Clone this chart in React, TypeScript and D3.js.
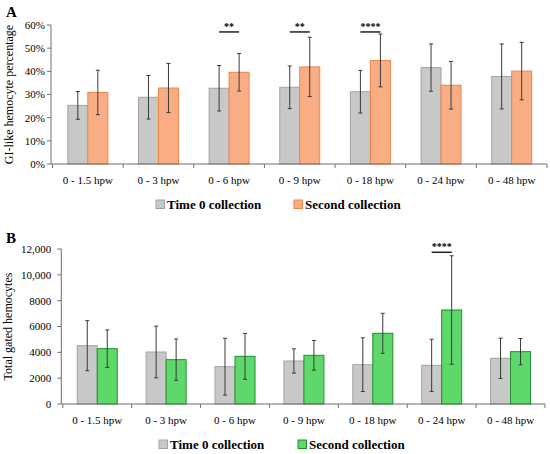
import React from "react";
import * as d3 from "d3";

const categories = ["0 - 1.5 hpw", "0 - 3 hpw", "0 - 6 hpw", "0 - 9 hpw", "0 - 18 hpw", "0 - 24 hpw", "0 - 48 hpw"];

// Panel A (percent)
const aTime0 = [25.3, 28.8, 32.7, 33.1, 31.2, 41.6, 37.8];
const aTime0Err = [6.0, 9.4, 9.8, 9.2, 9.2, 10.2, 14.0];
const aSecond = [30.9, 32.8, 39.6, 41.9, 44.7, 34.0, 40.1];
const aSecondErr = [9.6, 10.6, 8.1, 12.8, 11.4, 10.3, 12.4];
const aTicks = [0, 10, 20, 30, 40, 50, 60];
const aSig = [
  { cat: 2, label: "**", y: 57 },
  { cat: 3, label: "**", y: 57 },
  { cat: 4, label: "****", y: 57 },
];

// Panel B (counts)
const bTime0 = [4516, 4026, 2890, 3329, 3045, 2994, 3535];
const bTime0Err = [1940, 2000, 2200, 940, 2080, 2020, 1560];
const bSecond = [4284, 3432, 3690, 3768, 5471, 7277, 4052];
const bSecondErr = [1450, 1600, 1780, 1150, 1550, 4200, 1020];
const bTicks = [0, 2000, 4000, 6000, 8000, 10000, 12000];
const bSig = [{ cat: 5, label: "****", y: 11750 }];

const seriesNames = ["Time 0 collection", "Second collection"];

const FONT = "Liberation Serif";
const AXIS = "#6f6f6f";
const ERR = "#3a3a3a";
const GRAY = { fill: "#c8c8c8", stroke: "#a3a3a3" };
const ORANGE = { fill: "#f9ad84", stroke: "#ef8446" };
const GREEN = { fill: "#5ed86a", stroke: "#1f8d2e" };

type PanelProps = {
  letter: string;
  letterY: number;
  xRange: [number, number];
  yRange: [number, number];
  yMax: number;
  ticks: number[];
  tickFmt: (v: number) => string;
  s1: number[];
  e1: number[];
  s2: number[];
  e2: number[];
  c2: { fill: string; stroke: string };
  sig: { cat: number; label: string; y: number }[];
  title: string;
  titleX: number;
  labelGap: number;
  legendY: number;
  legendX: [number, number];
};

function Panel(p: PanelProps) {
  const x = d3.scaleBand<string>().domain(categories).range(p.xRange).paddingInner(0).paddingOuter(0);
  const y = d3.scaleLinear().domain([0, p.yMax]).range(p.yRange);
  const bw = 20;
  const axisX = p.xRange[0] - 1.5;
  const y0 = y(0);
  const bounds = categories.map((c) => x(c)!).concat([p.xRange[1]]);
  const center = (i: number) => x(categories[i])! + x.bandwidth() / 2;
  const cap = 2;

  const errBar = (cx: number, v: number, e: number, key: string) => (
    <g key={key} stroke={ERR} strokeWidth={1}>
      <line x1={cx} x2={cx} y1={y(v + e)} y2={y(v - e)} />
      <line x1={cx - cap} x2={cx + cap} y1={y(v + e)} y2={y(v + e)} />
      <line x1={cx - cap} x2={cx + cap} y1={y(v - e)} y2={y(v - e)} />
    </g>
  );

  const titleCy = (p.yRange[0] + p.yRange[1]) / 2;
  const ts = { fontFamily: FONT };

  return (
    <g style={ts}>
      <text x={6} y={p.letterY} fontSize={15} fontWeight="bold" fill="#000" style={ts}>{p.letter}</text>
      <text
        transform={`translate(${p.titleX},${titleCy}) rotate(-90)`}
        textAnchor="middle"
        fontSize={12}
        fill="#000"
        style={ts}
      >{p.title}</text>
      {categories.map((c, i) => {
        const cx = center(i);
        return (
          <g key={c}>
            <rect x={cx - bw} y={y(p.s1[i])} width={bw} height={y0 - y(p.s1[i])} fill={GRAY.fill} stroke={GRAY.stroke} strokeWidth={1} />
            <rect x={cx} y={y(p.s2[i])} width={bw} height={y0 - y(p.s2[i])} fill={p.c2.fill} stroke={p.c2.stroke} strokeWidth={1} />
          </g>
        );
      })}
      {categories.map((c, i) => errBar(center(i) - bw / 2, p.s1[i], p.e1[i], "e1" + i))}
      {categories.map((c, i) => errBar(center(i) + bw / 2, p.s2[i], p.e2[i], "e2" + i))}
      <line x1={axisX} x2={axisX} y1={p.yRange[1]} y2={y0} stroke={AXIS} strokeWidth={1} />
      {p.ticks.map((t) => (
        <g key={t}>
          <line x1={axisX - 4} x2={axisX} y1={y(t)} y2={y(t)} stroke={AXIS} strokeWidth={1} />
          <text x={axisX - p.labelGap} y={y(t)} dy="0.35em" textAnchor="end" fontSize={11} fill="#000" style={ts}>{p.tickFmt(t)}</text>
        </g>
      ))}
      <line x1={axisX} x2={p.xRange[1]} y1={y0} y2={y0} stroke={AXIS} strokeWidth={1} />
      {bounds.map((b, i) => (
        <line key={i} x1={b} x2={b} y1={y0} y2={y0 + 4} stroke={AXIS} strokeWidth={1} />
      ))}
      {categories.map((c, i) => (
        <text key={c} x={center(i)} y={y0 + 20} textAnchor="middle" fontSize={11} fill="#000" style={ts}>{c}</text>
      ))}
      {p.sig.map((s, i) => {
        const cx = center(s.cat);
        return (
          <g key={i}>
            <line x1={cx - bw / 2} x2={cx + bw / 2} y1={y(s.y)} y2={y(s.y)} stroke="#000" strokeWidth={1.3} />
            <text x={cx} y={y(s.y) - 2} textAnchor="middle" fontSize={10} fontWeight="bold" fill="#000" style={ts}>{s.label}</text>
          </g>
        );
      })}
      {[GRAY, p.c2].map((col, i) => (
        <g key={i}>
          <rect x={p.legendX[i]} y={p.legendY - 9} width={8.5} height={8.5} fill={col.fill} stroke={col.stroke} strokeWidth={1} />
          <text x={p.legendX[i] + 11} y={p.legendY} fontSize={13} fontWeight="bold" fill="#000" style={ts}>{seriesNames[i]}</text>
        </g>
      ))}
    </g>
  );
}

export default function App() {
  const fmtB = (v: number) => (v >= 10000 ? d3.format(",")(v) : String(v));
  return (
    <svg width={550} height={454} style={{ position: "absolute", left: 0, top: 0, background: "#fff" }}>
      <rect width={550} height={454} fill="#fff" />
      <Panel
        letter="A"
        letterY={17}
        xRange={[52.5, 547]}
        yRange={[164, 25]}
        yMax={60}
        ticks={aTicks}
        tickFmt={(v) => `${v}%`}
        s1={aTime0}
        e1={aTime0Err}
        s2={aSecond}
        e2={aSecondErr}
        c2={ORANGE}
        sig={aSig}
        title="GI-like hemocyte percentage"
        titleX={13}
        labelGap={6}
        legendY={209}
        legendX={[156, 294]}
      />
      <Panel
        letter="B"
        letterY={243}
        xRange={[62.8, 545]}
        yRange={[404, 249]}
        yMax={12000}
        ticks={bTicks}
        tickFmt={fmtB}
        s1={bTime0}
        e1={bTime0Err}
        s2={bSecond}
        e2={bSecondErr}
        c2={GREEN}
        sig={bSig}
        title="Total gated hemocytes"
        titleX={12}
        labelGap={10}
        legendY={449}
        legendX={[159, 298]}
      />
    </svg>
  );
}
